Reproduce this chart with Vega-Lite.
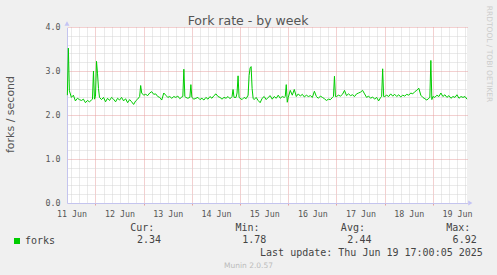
{
"$schema": "https://vega.github.io/schema/vega-lite/v6.json",
"width": 400,
"height": 176,
"autosize": {"type": "none"},
"padding": {"left": 67, "top": 27, "right": 30, "bottom": 72},
"background": "#f0f0f0",
"config": {"view": {"fill": "#ffffff", "stroke": null}, "font": "DejaVu Sans"},
"title": {"text": "Fork rate - by week", "font": "DejaVu Sans", "fontSize": 12.5, "fontWeight": "normal", "color": "#555555", "anchor": "middle", "frame": "group", "dx": -19, "baseline": "alphabetic", "offset": 0, "dy": 32},
"datasets": {
"forks": [
{"t":"2025-06-11T10:00","v":2.45},{"t":"2025-06-11T10:30","v":3.52},{"t":"2025-06-11T11:00","v":2.55},{"t":"2025-06-11T12:00","v":2.4},{"t":"2025-06-11T13:00","v":2.45},{"t":"2025-06-11T14:00","v":2.32},{"t":"2025-06-11T15:00","v":2.38},{"t":"2025-06-11T16:00","v":2.35},{"t":"2025-06-11T17:00","v":2.33},{"t":"2025-06-11T18:00","v":2.36},{"t":"2025-06-11T19:00","v":2.28},{"t":"2025-06-11T20:00","v":2.33},{"t":"2025-06-11T21:00","v":2.3},{"t":"2025-06-11T22:00","v":2.34},{"t":"2025-06-11T22:30","v":2.36},{"t":"2025-06-11T23:00","v":3.0},{"t":"2025-06-11T23:30","v":2.36},
{"t":"2025-06-12T00:00","v":2.42},{"t":"2025-06-12T00:30","v":3.22},{"t":"2025-06-12T01:00","v":2.95},{"t":"2025-06-12T01:30","v":2.6},{"t":"2025-06-12T02:00","v":2.4},{"t":"2025-06-12T03:00","v":2.35},{"t":"2025-06-12T04:00","v":2.4},{"t":"2025-06-12T05:00","v":2.3},{"t":"2025-06-12T06:00","v":2.38},{"t":"2025-06-12T07:00","v":2.33},{"t":"2025-06-12T08:00","v":2.4},{"t":"2025-06-12T09:00","v":2.36},{"t":"2025-06-12T10:00","v":2.3},{"t":"2025-06-12T11:00","v":2.38},{"t":"2025-06-12T12:00","v":2.34},{"t":"2025-06-12T13:00","v":2.4},{"t":"2025-06-12T14:00","v":2.32},{"t":"2025-06-12T15:00","v":2.37},{"t":"2025-06-12T16:00","v":2.28},{"t":"2025-06-12T17:00","v":2.35},{"t":"2025-06-12T18:00","v":2.3},{"t":"2025-06-12T19:00","v":2.24},{"t":"2025-06-12T20:00","v":2.32},{"t":"2025-06-12T21:00","v":2.36},{"t":"2025-06-12T22:00","v":2.42},{"t":"2025-06-12T22:30","v":2.67},{"t":"2025-06-12T23:00","v":2.5},
{"t":"2025-06-13T00:00","v":2.45},{"t":"2025-06-13T01:00","v":2.47},{"t":"2025-06-13T02:00","v":2.44},{"t":"2025-06-13T03:00","v":2.5},{"t":"2025-06-13T04:00","v":2.53},{"t":"2025-06-13T05:00","v":2.47},{"t":"2025-06-13T06:00","v":2.48},{"t":"2025-06-13T07:00","v":2.42},{"t":"2025-06-13T08:00","v":2.4},{"t":"2025-06-13T09:00","v":2.34},{"t":"2025-06-13T10:00","v":2.5},{"t":"2025-06-13T11:00","v":2.45},{"t":"2025-06-13T12:00","v":2.4},{"t":"2025-06-13T13:00","v":2.42},{"t":"2025-06-13T14:00","v":2.38},{"t":"2025-06-13T15:00","v":2.42},{"t":"2025-06-13T16:00","v":2.4},{"t":"2025-06-13T17:00","v":2.43},{"t":"2025-06-13T18:00","v":2.37},{"t":"2025-06-13T19:00","v":2.41},{"t":"2025-06-13T19:30","v":2.42},{"t":"2025-06-13T20:00","v":3.04},{"t":"2025-06-13T20:30","v":2.42},{"t":"2025-06-13T21:00","v":2.4},{"t":"2025-06-13T22:00","v":2.38},{"t":"2025-06-13T23:00","v":2.4},{"t":"2025-06-13T23:30","v":2.69},
{"t":"2025-06-14T00:00","v":2.4},{"t":"2025-06-14T01:00","v":2.36},{"t":"2025-06-14T02:00","v":2.38},{"t":"2025-06-14T03:00","v":2.4},{"t":"2025-06-14T04:00","v":2.35},{"t":"2025-06-14T05:00","v":2.38},{"t":"2025-06-14T06:00","v":2.34},{"t":"2025-06-14T07:00","v":2.4},{"t":"2025-06-14T08:00","v":2.36},{"t":"2025-06-14T09:00","v":2.42},{"t":"2025-06-14T10:00","v":2.38},{"t":"2025-06-14T11:00","v":2.44},{"t":"2025-06-14T12:00","v":2.48},{"t":"2025-06-14T13:00","v":2.42},{"t":"2025-06-14T14:00","v":2.4},{"t":"2025-06-14T15:00","v":2.36},{"t":"2025-06-14T16:00","v":2.4},{"t":"2025-06-14T17:00","v":2.38},{"t":"2025-06-14T18:00","v":2.42},{"t":"2025-06-14T19:00","v":2.37},{"t":"2025-06-14T20:00","v":2.42},{"t":"2025-06-14T20:30","v":2.58},{"t":"2025-06-14T21:00","v":2.4},{"t":"2025-06-14T22:00","v":2.4},{"t":"2025-06-14T22:30","v":2.5},{"t":"2025-06-14T23:00","v":2.89},{"t":"2025-06-14T23:30","v":2.4},
{"t":"2025-06-15T00:00","v":2.38},{"t":"2025-06-15T01:00","v":2.35},{"t":"2025-06-15T02:00","v":2.4},{"t":"2025-06-15T03:00","v":2.37},{"t":"2025-06-15T04:00","v":2.45},{"t":"2025-06-15T04:30","v":2.9},{"t":"2025-06-15T05:00","v":3.07},{"t":"2025-06-15T05:30","v":3.1},{"t":"2025-06-15T06:00","v":2.6},{"t":"2025-06-15T06:30","v":2.38},{"t":"2025-06-15T07:00","v":2.35},{"t":"2025-06-15T08:00","v":2.4},{"t":"2025-06-15T09:00","v":2.33},{"t":"2025-06-15T10:00","v":2.28},{"t":"2025-06-15T11:00","v":2.38},{"t":"2025-06-15T12:00","v":2.42},{"t":"2025-06-15T13:00","v":2.35},{"t":"2025-06-15T14:00","v":2.4},{"t":"2025-06-15T15:00","v":2.44},{"t":"2025-06-15T16:00","v":2.36},{"t":"2025-06-15T17:00","v":2.42},{"t":"2025-06-15T18:00","v":2.38},{"t":"2025-06-15T19:00","v":2.45},{"t":"2025-06-15T20:00","v":2.38},{"t":"2025-06-15T21:00","v":2.42},{"t":"2025-06-15T22:00","v":2.4},{"t":"2025-06-15T22:30","v":2.42},{"t":"2025-06-15T23:00","v":2.69},{"t":"2025-06-15T23:30","v":2.29},
{"t":"2025-06-16T00:00","v":2.4},{"t":"2025-06-16T01:00","v":2.56},{"t":"2025-06-16T02:00","v":2.45},{"t":"2025-06-16T03:00","v":2.58},{"t":"2025-06-16T04:00","v":2.42},{"t":"2025-06-16T05:00","v":2.48},{"t":"2025-06-16T06:00","v":2.43},{"t":"2025-06-16T07:00","v":2.47},{"t":"2025-06-16T08:00","v":2.41},{"t":"2025-06-16T09:00","v":2.45},{"t":"2025-06-16T10:00","v":2.42},{"t":"2025-06-16T11:00","v":2.44},{"t":"2025-06-16T12:00","v":2.4},{"t":"2025-06-16T13:00","v":2.54},{"t":"2025-06-16T14:00","v":2.42},{"t":"2025-06-16T15:00","v":2.38},{"t":"2025-06-16T16:00","v":2.43},{"t":"2025-06-16T17:00","v":2.4},{"t":"2025-06-16T18:00","v":2.37},{"t":"2025-06-16T19:00","v":2.33},{"t":"2025-06-16T20:00","v":2.36},{"t":"2025-06-16T21:00","v":2.35},{"t":"2025-06-16T22:00","v":2.4},{"t":"2025-06-16T22:30","v":2.42},{"t":"2025-06-16T23:00","v":2.88},{"t":"2025-06-16T23:30","v":2.42},
{"t":"2025-06-17T00:00","v":2.42},{"t":"2025-06-17T01:00","v":2.45},{"t":"2025-06-17T02:00","v":2.43},{"t":"2025-06-17T03:00","v":2.47},{"t":"2025-06-17T04:00","v":2.56},{"t":"2025-06-17T05:00","v":2.44},{"t":"2025-06-17T06:00","v":2.48},{"t":"2025-06-17T07:00","v":2.44},{"t":"2025-06-17T08:00","v":2.46},{"t":"2025-06-17T09:00","v":2.42},{"t":"2025-06-17T10:00","v":2.48},{"t":"2025-06-17T11:00","v":2.5},{"t":"2025-06-17T12:00","v":2.52},{"t":"2025-06-17T13:00","v":2.56},{"t":"2025-06-17T14:00","v":2.48},{"t":"2025-06-17T15:00","v":2.4},{"t":"2025-06-17T16:00","v":2.43},{"t":"2025-06-17T17:00","v":2.38},{"t":"2025-06-17T18:00","v":2.41},{"t":"2025-06-17T19:00","v":2.36},{"t":"2025-06-17T20:00","v":2.4},{"t":"2025-06-17T21:00","v":2.32},{"t":"2025-06-17T22:00","v":2.4},{"t":"2025-06-17T22:30","v":2.42},{"t":"2025-06-17T23:00","v":3.05},{"t":"2025-06-17T23:30","v":2.42},
{"t":"2025-06-18T00:00","v":2.42},{"t":"2025-06-18T01:00","v":2.45},{"t":"2025-06-18T02:00","v":2.42},{"t":"2025-06-18T03:00","v":2.48},{"t":"2025-06-18T04:00","v":2.43},{"t":"2025-06-18T05:00","v":2.47},{"t":"2025-06-18T06:00","v":2.42},{"t":"2025-06-18T07:00","v":2.46},{"t":"2025-06-18T08:00","v":2.41},{"t":"2025-06-18T09:00","v":2.45},{"t":"2025-06-18T10:00","v":2.43},{"t":"2025-06-18T11:00","v":2.47},{"t":"2025-06-18T12:00","v":2.45},{"t":"2025-06-18T13:00","v":2.5},{"t":"2025-06-18T14:00","v":2.48},{"t":"2025-06-18T15:00","v":2.53},{"t":"2025-06-18T16:00","v":2.56},{"t":"2025-06-18T17:00","v":2.61},{"t":"2025-06-18T18:00","v":2.45},{"t":"2025-06-18T19:00","v":2.4},{"t":"2025-06-18T20:00","v":2.37},{"t":"2025-06-18T21:00","v":2.34},{"t":"2025-06-18T22:00","v":2.38},{"t":"2025-06-18T22:30","v":2.4},{"t":"2025-06-18T23:00","v":3.24},{"t":"2025-06-18T23:30","v":2.35},
{"t":"2025-06-19T00:00","v":2.42},{"t":"2025-06-19T01:00","v":2.4},{"t":"2025-06-19T02:00","v":2.45},{"t":"2025-06-19T03:00","v":2.42},{"t":"2025-06-19T04:00","v":2.5},{"t":"2025-06-19T05:00","v":2.42},{"t":"2025-06-19T06:00","v":2.46},{"t":"2025-06-19T07:00","v":2.4},{"t":"2025-06-19T08:00","v":2.44},{"t":"2025-06-19T09:00","v":2.38},{"t":"2025-06-19T10:00","v":2.42},{"t":"2025-06-19T11:00","v":2.4},{"t":"2025-06-19T12:00","v":2.46},{"t":"2025-06-19T13:00","v":2.38},{"t":"2025-06-19T14:00","v":2.42},{"t":"2025-06-19T15:00","v":2.4},{"t":"2025-06-19T16:00","v":2.42},{"t":"2025-06-19T17:00","v":2.36}
],
"stats": [
{"s":"Cur","k":"head","txt":"Cur:"},{"s":"Min","k":"head","txt":"Min:"},{"s":"Avg","k":"head","txt":"Avg:"},{"s":"Max","k":"head","txt":"Max:"},
{"s":"Cur","k":"val","txt":"2.34"},{"s":"Min","k":"val","txt":"1.78"},{"s":"Avg","k":"val","txt":"2.44"},{"s":"Max","k":"val","txt":"6.92"}
]
},
"layer": [
{
"data": {"name": "forks"},
"mark": {"type": "line", "opacity": 0},
"encoding": {
"x": {"field": "t", "type": "temporal", "scale": {"domain": [{"year":2025,"month":6,"date":11,"hours":9,"minutes":49},{"year":2025,"month":6,"date":19,"hours":17,"minutes":0}]},
"axis": {"orient": "bottom", "values": [
{"year":2025,"month":6,"date":11,"hours":12},{"year":2025,"month":6,"date":11,"hours":16},{"year":2025,"month":6,"date":11,"hours":20},
{"year":2025,"month":6,"date":12,"hours":4},{"year":2025,"month":6,"date":12,"hours":8},{"year":2025,"month":6,"date":12,"hours":12},{"year":2025,"month":6,"date":12,"hours":16},{"year":2025,"month":6,"date":12,"hours":20},
{"year":2025,"month":6,"date":13,"hours":4},{"year":2025,"month":6,"date":13,"hours":8},{"year":2025,"month":6,"date":13,"hours":12},{"year":2025,"month":6,"date":13,"hours":16},{"year":2025,"month":6,"date":13,"hours":20},
{"year":2025,"month":6,"date":14,"hours":4},{"year":2025,"month":6,"date":14,"hours":8},{"year":2025,"month":6,"date":14,"hours":12},{"year":2025,"month":6,"date":14,"hours":16},{"year":2025,"month":6,"date":14,"hours":20},
{"year":2025,"month":6,"date":15,"hours":4},{"year":2025,"month":6,"date":15,"hours":8},{"year":2025,"month":6,"date":15,"hours":12},{"year":2025,"month":6,"date":15,"hours":16},{"year":2025,"month":6,"date":15,"hours":20},
{"year":2025,"month":6,"date":16,"hours":4},{"year":2025,"month":6,"date":16,"hours":8},{"year":2025,"month":6,"date":16,"hours":12},{"year":2025,"month":6,"date":16,"hours":16},{"year":2025,"month":6,"date":16,"hours":20},
{"year":2025,"month":6,"date":17,"hours":4},{"year":2025,"month":6,"date":17,"hours":8},{"year":2025,"month":6,"date":17,"hours":12},{"year":2025,"month":6,"date":17,"hours":16},{"year":2025,"month":6,"date":17,"hours":20},
{"year":2025,"month":6,"date":18,"hours":4},{"year":2025,"month":6,"date":18,"hours":8},{"year":2025,"month":6,"date":18,"hours":12},{"year":2025,"month":6,"date":18,"hours":16},{"year":2025,"month":6,"date":18,"hours":20},
{"year":2025,"month":6,"date":19,"hours":4},{"year":2025,"month":6,"date":19,"hours":8},{"year":2025,"month":6,"date":19,"hours":12},{"year":2025,"month":6,"date":19,"hours":16}],
"grid": true, "gridColor": "#d4d4d4", "gridDash": [1, 1], "labels": false, "ticks": false, "domain": false,
"title": "Munin 2.0.57", "titleX": 181, "titleY": 64, "titleAlign": "center", "titleBaseline": "alphabetic", "titleFont": "DejaVu Sans", "titleFontSize": 7.5, "titleFontWeight": "normal", "titleColor": "#bbbbbb"}},
"y": {"field": "v", "type": "quantitative", "scale": {"domain": [0, 4], "nice": false, "zero": false},
"axis": {"orient": "left", "values": [0.2,0.4,0.6,0.8,1.2,1.4,1.6,1.8,2.2,2.4,2.6,2.8,3.2,3.4,3.6,3.8], "grid": true, "gridColor": "#d4d4d4", "gridDash": [1, 1], "labels": false, "ticks": false, "domain": false, "title": null}}
}
},
{
"data": {"name": "forks"},
"mark": {"type": "line", "opacity": 0},
"encoding": {
"x": {"field": "t", "type": "temporal", "scale": {"domain": [{"year":2025,"month":6,"date":11,"hours":9,"minutes":49},{"year":2025,"month":6,"date":19,"hours":17,"minutes":0}]},
"axis": {"orient": "bottom", "values": [{"year":2025,"month":6,"date":12},{"year":2025,"month":6,"date":13},{"year":2025,"month":6,"date":14},{"year":2025,"month":6,"date":15},{"year":2025,"month":6,"date":16},{"year":2025,"month":6,"date":17},{"year":2025,"month":6,"date":18},{"year":2025,"month":6,"date":19}],
"grid": true, "gridColor": "#e6a0a0", "gridDash": [1, 1], "labels": false, "ticks": true, "tickSize": 2, "tickColor": "#e6a0a0", "domain": false, "title": null}},
"y": {"field": "v", "type": "quantitative", "scale": {"domain": [0, 4], "nice": false, "zero": false},
"axis": {"orient": "right", "values": [0, 1, 2, 3, 4], "grid": true, "gridColor": "#e6a0a0", "gridDash": [1, 1], "labels": false, "ticks": false, "domain": false,
"title": "RRDTOOL / TOBI OETIKER", "titleX": 21.5, "titleY": 26.5, "titleAngle": 90, "titleAlign": "center", "titleBaseline": "middle", "titleFont": "DejaVu Sans", "titleFontSize": 7.5, "titleFontWeight": "normal", "titleColor": "#cccccc"}}
}
},
{
"data": {"name": "forks"},
"mark": {"type": "line", "strokeWidth": 1},
"encoding": {
"x": {"field": "t", "type": "temporal", "scale": {"domain": [{"year":2025,"month":6,"date":11,"hours":9,"minutes":49},{"year":2025,"month":6,"date":19,"hours":17,"minutes":0}]},
"axis": {"orient": "bottom", "values": [{"year":2025,"month":6,"date":11,"hours":12},{"year":2025,"month":6,"date":12,"hours":12},{"year":2025,"month":6,"date":13,"hours":12},{"year":2025,"month":6,"date":14,"hours":12},{"year":2025,"month":6,"date":15,"hours":12},{"year":2025,"month":6,"date":16,"hours":12},{"year":2025,"month":6,"date":17,"hours":12},{"year":2025,"month":6,"date":18,"hours":12},{"year":2025,"month":6,"date":19,"hours":12}],
"format": "%d Jun", "labelFont": "DejaVu Sans Mono", "labelFontSize": 8.3, "labelColor": "#555555", "labelPadding": 13, "labelBaseline": "alphabetic", "labelFlush": false, "labelOverlap": false, "ticks": false, "tickSize": 0, "grid": false, "domain": true, "domainColor": "#c4c4ee", "domainWidth": 1,
"title": "Last update: Thu Jun 19 17:00:05 2025", "titleX": 415.3, "titleY": 52, "titleAlign": "right", "titleBaseline": "alphabetic", "titleFont": "DejaVu Sans Mono", "titleFontSize": 10, "titleFontWeight": "normal", "titleColor": "#444444"}},
"y": {"field": "v", "type": "quantitative", "scale": {"domain": [0, 4], "nice": false, "zero": false},
"axis": {"orient": "left", "values": [0, 1, 2, 3, 4], "format": ".1f", "labelFont": "DejaVu Sans Mono", "labelFontSize": 8.3, "labelColor": "#555555", "labelPadding": 7, "ticks": false, "tickSize": 0, "grid": false, "domain": true, "domainColor": "#c4c4ee",
"title": "forks / second", "titleX": -56.5, "titleY": 87, "titleAngle": 270, "titleAlign": "center", "titleBaseline": "middle", "titleFont": "DejaVu Sans", "titleFontSize": 11, "titleFontWeight": "normal", "titleColor": "#555555"}},
"color": {"datum": "forks", "type": "nominal", "scale": {"domain": ["forks"], "range": ["#00cc00"]},
"legend": {"orient": "none", "legendX": -55, "legendY": 209, "title": null, "symbolType": "square", "symbolSize": 36, "symbolFillColor": "#00cc00", "symbolStrokeWidth": 0, "labelFont": "DejaVu Sans Mono", "labelFontSize": 10, "labelColor": "#444444", "labelOffset": 3, "padding": 0}}
}
},
{
"data": {"values": [{}]},
"mark": {"type": "point", "shape": "triangle-up", "filled": true, "size": 25, "color": "#c4c4f4", "opacity": 1},
"encoding": {
"x": {"datum": {"year":2025,"month":6,"date":11,"hours":9,"minutes":49}, "type": "temporal", "scale": {"domain": [{"year":2025,"month":6,"date":11,"hours":9,"minutes":49},{"year":2025,"month":6,"date":19,"hours":17,"minutes":0}]}, "axis": null},
"y": {"datum": 4.08, "type": "quantitative", "scale": {"domain": [0, 4], "nice": false, "zero": false}, "axis": null}
}
},
{
"data": {"values": [{}]},
"mark": {"type": "point", "shape": "triangle-right", "filled": true, "size": 25, "color": "#c4c4f4", "opacity": 1},
"encoding": {
"x": {"datum": {"year":2025,"month":6,"date":19,"hours":18,"minutes":40}, "type": "temporal", "scale": {"domain": [{"year":2025,"month":6,"date":11,"hours":9,"minutes":49},{"year":2025,"month":6,"date":19,"hours":17,"minutes":0}]}, "axis": null},
"y": {"datum": 0, "type": "quantitative", "scale": {"domain": [0, 4], "nice": false, "zero": false}, "axis": null}
}
},
{
"data": {"name": "stats"},
"transform": [{"filter": {"field": "k", "equal": "head"}}],
"mark": {"type": "text", "align": "right", "baseline": "alphabetic", "font": "DejaVu Sans Mono", "fontSize": 10, "color": "#444444"},
"encoding": {
"x": {"field": "s", "type": "nominal", "scale": {"type": "point", "domain": ["Cur", "Min", "Avg", "Max"], "range": [87.3, 403.3], "padding": 0}, "axis": null},
"y": {"field": "k", "type": "nominal", "scale": {"type": "point", "domain": ["head", "val"], "range": [204, 215.7], "padding": 0}, "axis": null},
"text": {"field": "txt", "type": "nominal"}
}
},
{
"data": {"name": "stats"},
"transform": [{"filter": {"field": "k", "equal": "val"}}],
"mark": {"type": "text", "align": "right", "baseline": "alphabetic", "font": "DejaVu Sans Mono", "fontSize": 10, "color": "#444444"},
"encoding": {
"x": {"field": "s", "type": "nominal", "scale": {"type": "point", "domain": ["Cur", "Min", "Avg", "Max"], "range": [94, 409.7], "padding": 0}, "axis": null},
"y": {"field": "k", "type": "nominal", "scale": {"type": "point", "domain": ["head", "val"], "range": [204, 215.7], "padding": 0}, "axis": null},
"text": {"field": "txt", "type": "nominal"}
}
}
],
"resolve": {"scale": {"x": "independent", "y": "independent"}, "axis": {"x": "independent", "y": "independent"}}
}
